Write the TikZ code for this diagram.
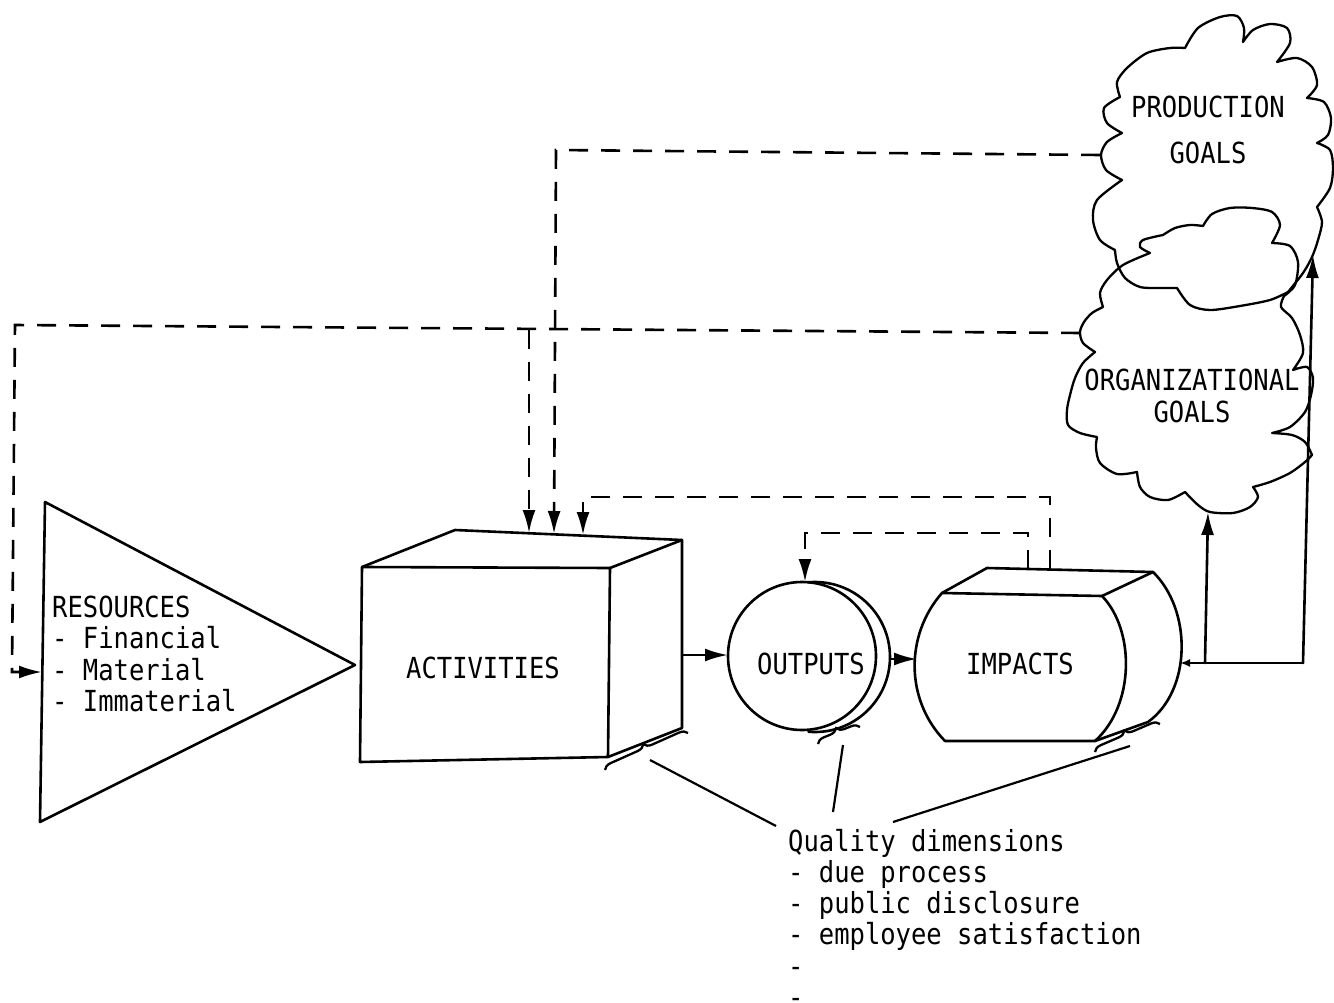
\documentclass[tikz,border=0pt]{standalone}
\usepackage{fontspec}
\newfontfamily\tw[FakeStretch=0.88]{DejaVu Sans Mono}
\usetikzlibrary{arrows.meta,decorations.pathreplacing}
\begin{document}
\begin{tikzpicture}[x=1pt,y=-1pt,
  shp/.style={line width=2.6pt, line join=round, line cap=round},
  cloudline/.style={line width=2.3pt, line join=round, line cap=round},
  dashline/.style={line width=2.6pt, dash pattern=on 19pt off 13pt},
  leader/.style={line width=2.2pt},
  tipped/.style={-{Latex[length=23pt,width=13pt]}},
  bracestyle/.style={line width=2.3pt, decorate, decoration={brace, amplitude=8pt}},
  lbl/.style={font={\tw\fontsize{29}{31.2}\selectfont}, inner sep=0pt},
  ]
\useasboundingbox (0,0) rectangle (1334,1003);

% ---------- RESOURCES triangle ----------
\draw[shp] (45,502) -- (355,665) -- (40,822) -- cycle;
\node[lbl, anchor=north west, align=left] (resources) at (52,596)
  {RESOURCES\\- Financial\\- Material\\- Immaterial};

% ---------- ACTIVITIES cube ----------
\draw[shp] (362,567) -- (610,568) -- (608,757) -- (360,762) -- cycle;
\draw[shp] (362,567) -- (455,530) -- (682,540) -- (682,728) -- (608,757);
\draw[shp] (610,568) -- (682,540);
\node[lbl] (activities) at (483,668) {ACTIVITIES};

% ---------- OUTPUTS sphere ----------
\draw[shp] (802,656) circle[radius=74];
\draw[shp] (815,657) ++(95:75) arc[start angle=95, end angle=-95, radius=75];
\node[lbl] (outputs) at (811,664) {OUTPUTS};

% ---------- IMPACTS barrel ----------
\draw[shp] (942,593) -- (1102,596) .. controls (1135,630) and (1135,705) .. (1095,741)
  -- (945,741) .. controls (905,700) and (905,635) .. (942,593) -- cycle;
\draw[shp] (942,593) -- (987,568) -- (1153,572) .. controls (1192,610) and (1192,690) .. (1148,722) -- (1095,741);
\draw[shp] (1102,596) -- (1153,572);
\node[lbl] (impacts) at (1020,664) {IMPACTS};

% ---------- PRODUCTION GOALS cloud ----------
\draw[cloudline]
  plot[smooth] coordinates {(1115,250) (1100,240) (1093,220) (1097,200) (1122,180)}
  -- plot[smooth] coordinates {(1122,180) (1106,170) (1101,155) (1107,142) (1122,133)}
  -- plot[smooth] coordinates {(1122,133) (1107,123) (1104,108) (1120,97)}
  -- plot[smooth] coordinates {(1120,97) (1117,82) (1127,68) (1147,53) (1170,48) (1185,48)}
  -- plot[smooth] coordinates {(1185,48) (1198,28) (1220,17) (1237,16) (1244,28) (1243,42)}
  -- plot[smooth] coordinates {(1243,42) (1253,30) (1270,24) (1287,28) (1290,43) (1277,62)}
  -- plot[smooth] coordinates {(1277,62) (1297,58) (1312,67) (1317,85) (1307,98)}
  -- plot[smooth] coordinates {(1307,98) (1324,102) (1331,118) (1328,135) (1317,143)}
  -- plot[smooth] coordinates {(1317,143) (1330,150) (1333,168) (1330,188) (1317,207)}
  -- plot[smooth] coordinates {(1317,207) (1322,222) (1318,240) (1312,257) (1303,273) (1288,292)}
  -- plot[smooth] coordinates {(1288,292) (1270,300) (1240,306) (1210,310) (1190,305) (1177,288)}
  -- plot[smooth] coordinates {(1177,288) (1160,288) (1140,287) (1125,278) (1117,263) (1115,250)};
\node[lbl, align=center] (prod) at (1208,130) {PRODUCTION\\[15.5pt]GOALS};

% ---------- ORGANIZATIONAL GOALS cloud ----------
\draw[cloudline]
  plot[smooth] coordinates {(1150,253) (1140,247) (1143,240) (1163,235)}
  -- plot[smooth] coordinates {(1163,235) (1175,228) (1190,225) (1203,226)}
  -- plot[smooth] coordinates {(1203,226) (1212,214) (1230,208) (1252,208) (1272,212) (1280,225) (1272,243)}
  -- plot[smooth] coordinates {(1272,243) (1290,246) (1298,262) (1295,285) (1284,296)}
  -- plot[smooth] coordinates {(1284,296) (1281,307) (1292,318) (1300,335) (1303,353) (1293,370)}
  -- plot[smooth] coordinates {(1293,370) (1307,367) (1313,378) (1311,395) (1305,412) (1290,427) (1272,433)}
  -- plot[smooth] coordinates {(1272,433) (1292,435) (1305,442) (1312,455)}
  -- plot[smooth] coordinates {(1312,455) (1305,462) (1290,473) (1270,482) (1253,487)}
  -- plot[smooth] coordinates {(1253,487) (1258,497) (1250,507) (1233,513) (1210,512) (1198,505) (1185,492)}
  -- plot[smooth] coordinates {(1185,492) (1168,500) (1150,497) (1140,487) (1137,472)}
  -- plot[smooth] coordinates {(1137,472) (1117,474) (1100,463) (1096,448) (1097,437)}
  -- plot[smooth] coordinates {(1097,437) (1080,433) (1068,425) (1067,410) (1070,395) (1075,378) (1083,363) (1095,352)}
  -- plot[smooth] coordinates {(1095,352) (1083,343) (1080,332) (1084,322) (1092,313) (1103,307)}
  -- plot[smooth] coordinates {(1103,307) (1100,293) (1107,280) (1123,265) (1150,253)};
\node[lbl, align=center] (org) at (1192,396) {ORGANIZATIONAL\\GOALS};

% ---------- connection points ----------
\coordinate (actout) at (682,655);
\coordinate (outin) at (728,655);
\coordinate (outout) at (890,659);
\coordinate (impin) at (917,659);
\coordinate (impout) at (1180,663);
\coordinate (j1) at (1205,663);
\coordinate (j2) at (1303,663);
\coordinate (orgin) at (1208,512);
\coordinate (prodin) at (1313,255);
\coordinate (prodout) at (1100,155);
\coordinate (pcorner) at (556,150);
\coordinate (actin1) at (529,533);
\coordinate (actin2) at (554,534);
\coordinate (actin3) at (583,535);
\coordinate (orgout) at (1080,333);
\coordinate (ocorner) at (15,325);
\coordinate (odown) at (12,672);
\coordinate (triin) at (42,672);
\coordinate (obranch) at (529,330);
\coordinate (impfb1) at (1050,569);
\coordinate (f1a) at (1050,497);
\coordinate (f1b) at (583,497);
\coordinate (impfb2) at (1028,569);
\coordinate (f2a) at (1028,533);
\coordinate (f2b) at (805,533);
\coordinate (outtop) at (805,582);

% ---------- solid flow ----------
\draw[shp, tipped] (actout) -- (outin);
\draw[shp, tipped] (outout) -- (impin);
\draw[shp, -{Latex[length=10pt,width=8pt]}] (j2) -- (impout);
\draw[shp, tipped] (j1) -- (orgin);
\draw[shp, tipped] (j2) -- (prodin);

% ---------- dashed feedback ----------
\draw[dashline, tipped] (prodout) -- (pcorner) -- (actin2);
\draw[dashline, tipped] (orgout) -- (ocorner) -- (odown) -- (triin);
\draw[dashline, tipped] (obranch) -- (actin1);
\draw[dashline, tipped] (impfb1) -- (f1a) -- (f1b) -- (actin3);
\draw[dashline, tipped] (impfb2) -- (f2a) -- (f2b) -- (outtop);

% ---------- quality braces ----------
\draw[bracestyle] (605,770) -- (688,733);
\draw[bracestyle] (818,744) -- (860,727);
\draw[bracestyle] (1095,752) -- (1160,724);
\coordinate (b1) at (650,760);
\coordinate (b2) at (843,745);
\coordinate (b3) at (1130,746);

\node[lbl, anchor=north west, align=left] (quality) at (788,829)
  {Quality dimensions\\- due process\\- public disclosure\\- employee satisfaction\\-\\-};
\coordinate (q1) at (776,826);
\coordinate (q2) at (833,812);
\coordinate (q3) at (893,822);
\draw[leader] (b1) -- (q1);
\draw[leader] (b2) -- (q2);
\draw[leader] (b3) -- (q3);
\end{tikzpicture}
\end{document}
